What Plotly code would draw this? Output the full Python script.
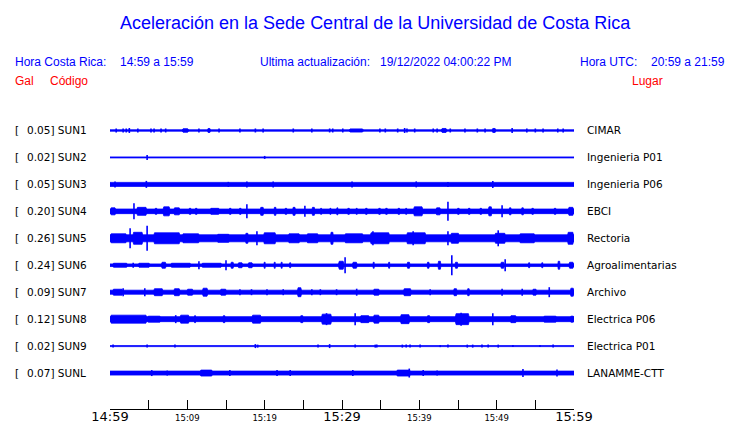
import plotly.graph_objects as go

# ---------------- data ----------------
codes = ["SUN1", "SUN2", "SUN3", "SUN4", "SUN5", "SUN6", "SUN7", "SUN8", "SUN9", "SUNL"]
gal_scale = ["0.05", "0.02", "0.05", "0.20", "0.26", "0.24", "0.09", "0.12", "0.02", "0.07"]
places = ["CIMAR", "Ingenieria P01", "Ingenieria P06", "EBCI", "Rectoria",
          "Agroalimentarias", "Archivo", "Electrica P06", "Electrica P01", "LANAMME-CTT"]

# time axis: minutes after 14:59
tick_minutes = [0, 5, 10, 15, 20, 25, 30, 35, 40, 45, 50, 55, 60]
tick_labels = ["14:59", "", "15:09", "", "15:19", "", "15:29", "", "15:39", "", "15:49", "", "15:59"]
major_labels = ["14:59", "15:29", "15:59"]

# amplitude of the background noise band of each trace (display units, 27 = one row)
base_amp = [0.7, 0.5, 2.0, 2.3, 3.5, 1.3, 2.0, 2.5, 0.5, 2.0]

# bursts: (start minute, end minute, half amplitude)
sun1_bursts = [(9.3, 10.2, 1.8), (12.6, 13.0, 2), (30.9, 32.8, 1.6), (42.8, 43.6, 2), (49.4, 49.9, 2)]
sun2_bursts = []
sun3_bursts = []
sun4_bursts = [(0, 0.8, 3.5), (3.4, 4.8, 4), (5.8, 6.1, 3), (6.8, 7.8, 4.5), (8.2, 9.1, 3.5),
               (10.2, 10.5, 3), (11.0, 11.3, 3), (12.9, 14.2, 3), (15.4, 15.7, 3), (16.7, 17.0, 3),
               (19.4, 19.9, 4), (21.2, 21.5, 4), (22.6, 22.9, 3), (23.6, 24.0, 4), (26.1, 26.5, 4),
               (27.2, 27.4, 3), (28.4, 28.6, 3), (29.3, 29.5, 3.5), (30.7, 31.0, 3), (31.8, 32.0, 3),
               (33.0, 33.3, 3), (34.7, 35.0, 3), (35.6, 35.9, 3), (37.2, 37.5, 3), (38.2, 38.4, 3),
               (39.2, 40.5, 4.5), (42.1, 42.8, 3.5), (44.9, 45.2, 3), (46.3, 46.6, 3), (47.8, 48.1, 3),
               (48.9, 49.4, 4.5), (51.6, 51.9, 3.5), (53.2, 53.5, 3.5), (54.5, 54.8, 3), (57.4, 57.7, 3),
               (59.2, 60, 4)]
sun5_bursts = [(0, 2.2, 4.5), (2.9, 4.3, 6), (5.6, 9.1, 5.5), (9.3, 11.6, 4.5), (13.8, 15.5, 4),
               (17.5, 17.9, 5), (19.8, 21.5, 5.5), (23.0, 24.6, 4.5), (25.4, 27.0, 4.5), (28.5, 28.9, 6),
               (30.3, 32.8, 4.5), (33.6, 36.2, 5.5), (38.3, 40.9, 5.5), (44.0, 45.2, 5), (49.7, 51.2, 5),
               (52.9, 55.0, 4.5), (59.1, 60, 6)]
sun6_bursts = [(0.3, 2.3, 2), (3.6, 5.2, 2), (6.6, 7.3, 3), (7.8, 10.5, 2), (11.8, 14.5, 2),
               (15.6, 16.0, 3), (16.5, 17.2, 2.5), (17.8, 18.5, 2.5), (19.9, 20.1, 3), (21.2, 21.4, 3),
               (22.1, 22.3, 3), (23.2, 23.4, 2.5), (29.5, 30.3, 4), (31.3, 32.0, 3), (34.0, 34.2, 3),
               (36.0, 36.2, 3), (38.4, 38.8, 3), (41.0, 41.3, 3), (42.4, 42.8, 4), (44.6, 45.0, 3),
               (50.5, 51.0, 3), (54.1, 54.3, 2.5), (55.8, 56.0, 2.5), (57.9, 58.2, 4), (59.3, 60, 3)]
sun7_bursts = [(0.3, 1.7, 3), (5.6, 6.9, 3.5), (8.2, 9.1, 3.5), (9.9, 10.8, 3), (11.9, 12.7, 4),
               (14.2, 15.1, 3), (24.2, 24.8, 4.5), (34.0, 34.9, 3), (37.9, 39.0, 3.5), (44.4, 44.9, 3.5),
               (46.2, 46.5, 3.5), (54.6, 55.2, 3), (59.5, 60, 4)]
sun8_bursts = [(0, 4.8, 4), (4.8, 6.6, 3), (9.0, 10.3, 4), (10.9, 11.1, 3.5), (14.6, 14.9, 3.5),
               (18.3, 19.6, 4), (24.6, 25.0, 3.5), (27.3, 28.7, 5), (32.3, 33.6, 3.5), (34.0, 34.9, 4),
               (37.5, 38.8, 4.5), (41.0, 41.4, 3.5), (44.6, 46.5, 5.5), (51.7, 52.6, 3.5),
               (56.0, 57.8, 3), (59.5, 60, 3)]
sun9_bursts = []
sunl_bursts = [(11.6, 13.3, 3), (37.0, 38.9, 3)]

# spikes: (minute, half amplitude)
sun1_spikes = [(0.8, 2), (1.7, 2), (2.1, 2), (2.5, 2.5), (3.6, 2), (5.3, 2), (5.7, 2), (6.6, 2), (7.2, 2),
               (11.5, 2), (14.1, 2), (16.8, 2), (18.8, 2), (19.8, 2), (23.7, 2), (26.1, 2), (28.4, 2),
               (28.8, 2), (30.1, 2), (34.9, 2), (35.6, 2), (37.2, 2), (38.1, 2.5), (38.4, 2), (39.4, 2),
               (41.8, 2), (42.3, 2), (44.0, 2), (45.9, 2), (47.5, 2), (48.5, 2), (52.0, 2.5), (53.9, 2),
               (55.0, 2), (56.0, 2), (57.9, 2), (58.6, 2)]
sun2_spikes = [(4.8, 2.5), (20.0, 1.5)]
sun3_spikes = [(0.65, 3), (4.7, 3.5), (15.3, 2.5), (17.7, 3), (21.1, 3), (31.3, 3), (39.6, 3),
               (43.7, 2.5), (49.5, 3.5)]
sun4_spikes = [(3.1, 8), (17.7, 7), (25.2, 5.5), (43.7, 9.5), (50.7, 6)]
sun5_spikes = [(2.6, 10), (4.8, 12.5), (19.0, 7), (34.0, 7), (39.2, 7), (43.7, 7), (50.2, 8)]
sun6_spikes = [(3.0, 2.5), (11.5, 4), (15.0, 5), (30.4, 8), (44.2, 10), (51.1, 6)]
sun7_spikes = [(1.7, 4), (4.5, 4), (16.8, 3), (18.3, 3), (20.3, 3), (22.4, 3), (26.1, 3), (27.2, 3),
               (29.3, 3), (31.9, 3.5), (41.4, 3), (50.7, 3.5), (53.3, 3.5), (56.8, 5)]
sun8_spikes = [(8.5, 4), (28.0, 6), (31.7, 6), (45.4, 6.5), (49.5, 6)]
sun9_spikes = [(0.4, 1.5), (4.8, 1.5), (8.4, 1.5), (18.8, 2), (19.1, 1.5), (26.9, 1.5), (28.4, 2),
               (31.7, 1.5), (34.3, 1.5), (34.5, 1.5), (37.8, 1.5), (38.3, 1.5), (38.8, 1.5), (40.1, 1.5),
               (42.7, 1), (43.7, 1.5), (46.2, 1.5), (46.9, 1.5), (48.1, 1.5), (48.9, 1.5), (50.2, 1.5),
               (52.1, 1), (55.6, 1), (57.3, 1.5)]
sunl_spikes = [(5.4, 3), (7.4, 2.5), (15.5, 3), (21.6, 3), (23.3, 3), (31.4, 3), (38.7, 4.5),
               (40.5, 3), (42.3, 2.5), (53.4, 4), (57.8, 3.5)]

bursts = [sun1_bursts, sun2_bursts, sun3_bursts, sun4_bursts, sun5_bursts,
          sun6_bursts, sun7_bursts, sun8_bursts, sun9_bursts, sunl_bursts]
spikes = [sun1_spikes, sun2_spikes, sun3_spikes, sun4_spikes, sun5_spikes,
          sun6_spikes, sun7_spikes, sun8_spikes, sun9_spikes, sunl_spikes]

# ---------------- figure ----------------
W, H = 740, 423
ML, MR, MT, MB = 110, 166, 116.5, 14
ROW_UNITS = 27.0  # amplitude display units per row
BLUE = "#0000FF"
RED = "#FF0000"
T_END = 60

fig = go.Figure()

for i in range(len(codes)):
    c = i
    k = 1.0 / ROW_UNITS
    xs, ys = [], []
    b = base_amp[i] * k
    xs += [0, T_END, T_END, 0, 0, None]
    ys += [c - b, c - b, c + b, c + b, c - b, None]
    for (t0, t1, a) in bursts[i]:
        a = a * k
        d = min(0.15, (t1 - t0) * 0.2)
        xs += [t0, t0 + d, t1 - d, t1, t1 - d, t0 + d, t0, None]
        ys += [c, c - a, c - a, c, c + a, c + a, c, None]
    fig.add_trace(go.Scatter(x=xs, y=ys, mode="lines", fill="toself", fillcolor=BLUE,
                             line=dict(color=BLUE, width=0.8), hoverinfo="skip",
                             showlegend=False))
    sx, sy = [], []
    for (t, a) in spikes[i]:
        a = a * k
        sx += [t, t, None]
        sy += [c - a, c + a, None]
    if sx:
        fig.add_trace(go.Scatter(x=sx, y=sy, mode="lines", line=dict(color=BLUE, width=1.6),
                                 hoverinfo="skip", showlegend=False))

ticktext = []
for lab in tick_labels:
    if lab == "":
        ticktext.append("")
    elif lab in major_labels:
        ticktext.append(lab)
    else:
        ticktext.append("<span style='font-size:8.5px'>" + lab + "</span>")

PW = W - ML - MR
PH = H - MT - MB


def px(xp):
    return (xp - ML) / PW


def py(yp):
    return 1 - (yp - MT) / PH


ann = []


def txt(x, y, s, color="black", size=10.5, family="DejaVu Sans", anchor="left"):
    ann.append(dict(x=px(x), y=py(y), xref="paper", yref="paper", text=s, showarrow=False,
                    xanchor=anchor, yanchor="middle", borderpad=0, borderwidth=0,
                    font=dict(color=color, size=size, family=family)))


HF = "Liberation Sans, Arial"
txt(375, 22, "Aceleración en la Sede Central de la Universidad de Costa Rica", BLUE, 18, HF, "center")
txt(15, 61, "Hora Costa Rica:", BLUE, 12, HF)
txt(120, 61, "14:59 a 15:59", BLUE, 12, HF)
txt(260, 61, "Ultima actualización:", BLUE, 12, HF)
txt(380, 61, "19/12/2022 04:00:22 PM", BLUE, 12, HF)
txt(580, 61, "Hora UTC:", BLUE, 12, HF)
txt(725, 61, "20:59 a 21:59", BLUE, 12, HF, "right")
txt(15, 80, "Gal", RED, 12, HF)
txt(50, 80, "Código", RED, 12, HF)
txt(663, 80, "Lugar", RED, 12, HF, "right")

for i in range(len(codes)):
    yp = 130 + i * 27
    txt(15, yp, "[", "black")
    txt(27, yp, gal_scale[i] + "] " + codes[i], "black")
    txt(587, yp, places[i], "black")

fig.update_layout(
    width=W, height=H,
    margin=dict(l=ML, r=MR, t=MT, b=MB, pad=0),
    paper_bgcolor="white", plot_bgcolor="white",
    showlegend=False,
    annotations=ann,
    xaxis=dict(range=[0, T_END], tickvals=tick_minutes, ticktext=ticktext,
               ticks="inside", ticklen=9, tickwidth=1, tickcolor="black",
               showline=True, linecolor="black", linewidth=1,
               showgrid=False, zeroline=False, fixedrange=True,
               tickfont=dict(family="DejaVu Sans", size=13, color="black"),
               ticklabelstandoff=-5,
               automargin=False),
    yaxis=dict(range=[10.3333, -0.5], visible=False, showgrid=False, zeroline=False,
               fixedrange=True, automargin=False),
)

fig.write_html("out.html", config={"displayModeBar": False, "staticPlot": True},
               post_script="document.body.style.margin='0';document.body.style.overflow='hidden';")
